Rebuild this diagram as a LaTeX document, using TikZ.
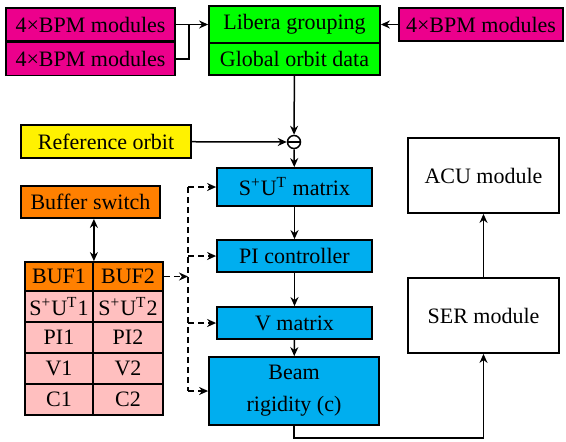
\documentclass[tikz,border=0pt]{standalone}
\usepackage{fontspec}
\setmainfont{Liberation Serif}
\usetikzlibrary{arrows.meta, calc}
\definecolor{bpmmag}{RGB}{236,0,140}
\definecolor{libgreen}{RGB}{0,255,0}
\definecolor{refyellow}{RGB}{255,242,0}
\definecolor{bufor}{RGB}{255,128,0}
\definecolor{ctlblue}{RGB}{0,174,239}
\definecolor{cellpink}{RGB}{255,191,191}
\tikzset{
    box/.style={draw, line width=0.9pt, inner sep=1pt,
        font=\fontsize{11}{13}\selectfont},
    bpm/.style={box, fill=bpmmag, minimum width=84.5pt, minimum height=16.5pt},
    ctl/.style={box, fill=ctlblue, minimum width=77.5pt, minimum height=16pt},
    cell/.style={box, fill=cellpink, minimum height=15.5pt, inner sep=0pt},
    tip/.style={Stealth[length=4.5pt, width=4pt]},
    arr/.style={-{Stealth[length=4.5pt, width=4pt]}, line width=0.75pt},
    dblarr/.style={{Stealth[length=4.5pt, width=4pt]}-{Stealth[length=4.5pt,
        width=4pt]}, line width=0.75pt},
    dasharr/.style={arr, dash pattern=on 3pt off 2pt},
}
\begin{document}
\begin{tikzpicture}[x=0.5pt, y=-0.5pt]
    \useasboundingbox (0, 0) rectangle (566, 441);
    % BPM inputs and grouping
    \node[bpm] (bpm1) at (90.5, 24.5) {4×BPM modules};
    \node[bpm] (bpm2) at (90.5, 59) {4×BPM modules};
    \node[bpm, minimum width=82pt] (bpm3) at (481, 24.5) {4×BPM modules};
    \node[box, fill=libgreen, minimum width=85.5pt, minimum height=18.5pt]
        (libera) at (294.5, 24.5) {Libera grouping};
    \node[box, fill=libgreen, minimum width=85.5pt, minimum height=16pt]
        (glob) at (294.5, 59) {Global orbit data};
    \coordinate (join) at (189, 24.5);
    \draw[arr] (bpm1) -- (libera);
    \draw[line width=0.75pt] (bpm2.east) -| (join);
    \draw[arr] (bpm3) -- (libera);

    % orbit correction chain
    \node[box, fill=refyellow, minimum width=85pt, minimum height=16.5pt]
        (ref) at (106, 141.5) {Reference orbit};
    \node[draw, circle, line width=0.75pt, minimum size=6.5pt, inner sep=0pt]
        (minus) at (294, 142) {};
    \draw[line width=0.75pt] (minus.west) -- (minus.east);
    \node[ctl, minimum height=19pt] (sut) at (294.5, 187)
        {S\textsuperscript{+}U\textsuperscript{T} matrix};
    \node[ctl] (pic) at (294.5, 256) {PI controller};
    \node[ctl] (vmat) at (294.5, 323) {V matrix};
    \node[box, fill=ctlblue, minimum width=85pt, minimum height=34pt,
        align=center] (beam) at (294, 391) {Beam\\[3pt]rigidity (c)};
    \draw[arr] (glob) -- (minus);
    \draw[arr] (ref) -- (minus);
    \draw[arr] (minus) -- (sut);
    \draw[arr] (sut) -- (pic);
    \draw[arr] (pic) -- (vmat);
    \draw[arr] (vmat) -- (beam);

    % output side
    \node[box, minimum width=75.5pt, minimum height=37.5pt] (acu)
        at (483.5, 175.5) {ACU module};
    \node[box, minimum width=75.5pt, minimum height=37.5pt] (ser)
        at (483.5, 315.5) {SER module};
    \coordinate (low) at (390, 438);
    \draw[arr] (beam.south) |- (low) -| (ser.south);
    \draw[arr] (ser) -- (acu);

    % double buffer
    \node[box, fill=bufor, minimum width=69.5pt, minimum height=16pt]
        (bufsw) at (90.5, 202) {Buffer switch};
    \node[cell, fill=bufor, minimum width=34pt, minimum height=14.5pt]
        (buf1) at (59, 276.5) {BUF1};
    \node[cell, fill=bufor, minimum width=35pt, minimum height=14.5pt]
        (buf2) at (128, 276.5) {BUF2};
    \node[cell, minimum width=34pt] (su1) at (59, 306.5)
        {S\textsuperscript{+}U\textsuperscript{T}1};
    \node[cell, minimum width=35pt] (su2) at (128, 306.5)
        {S\textsuperscript{+}U\textsuperscript{T}2};
    \node[cell, minimum width=34pt] (pi1) at (59, 337.5) {PI1};
    \node[cell, minimum width=35pt] (pi2) at (128, 337.5) {PI2};
    \node[cell, minimum width=34pt] (v1) at (59, 368.5) {V1};
    \node[cell, minimum width=35pt] (v2) at (128, 368.5) {V2};
    \node[cell, minimum width=34pt] (c1) at (59, 399.5) {C1};
    \node[cell, minimum width=35pt] (c2) at (128, 399.5) {C2};
    \draw[dblarr] (buf1.north east) -- (buf1.north east |- bufsw.south);

    % dashed parameter bus
    \coordinate (bus) at (188, 0);
    \draw[line width=0.75pt, dash pattern=on 3pt off 2pt]
        (sut.west -| bus) -- (beam.west -| bus);
    \draw[dasharr] (buf2.east) -- (buf2.east -| bus);
    \foreach \blk in {sut, pic, vmat, beam}
        \draw[dasharr] (\blk.west -| bus) -- (\blk.west);
\end{tikzpicture}
\end{document}
